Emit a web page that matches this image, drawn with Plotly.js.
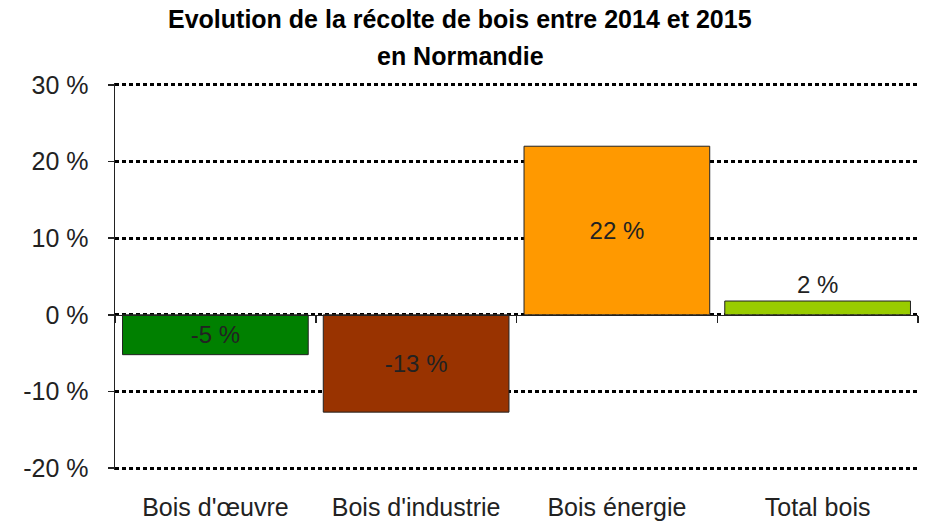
<!DOCTYPE html>
<html>
<head>
<meta charset="utf-8">
<script src="https://cdn.plot.ly/plotly-3.0.1.min.js"></script>
<style>html,body{margin:0;padding:0;background:#fff;}#chart{width:928px;height:522px;}</style>
</head>
<body>
<div id="chart"></div>
<script>
const categories = ["Bois d'œuvre", "Bois d'industrie", "Bois énergie", "Total bois"];
const values = [-5.2, -12.7, 22.0, 1.8];
const labels = ["-5 %", "-13 %", "22 %", "2 %"];
const barColors = ["#008000", "#993300", "#FF9900", "#99CC00"];
const labelPositions = ["inside", "inside", "inside", "outside"];
const yTickValues = [-20, -10, 0, 10, 20, 30];
const yTickLabels = ["-20 %", "-10 %", "0 %", "10 %", "20 %", "30 %"];
const titleLines = ["Evolution de la récolte de bois entre 2014 et 2015", "en Normandie"];

const yMin = -20.25, yMax = 30.25;
const font = "Liberation Sans, Arial, sans-serif";

const bars = {
  type: "bar",
  x: categories,
  y: values,
  text: labels,
  textposition: labelPositions,
  insidetextanchor: "middle",
  textangle: 0,
  constraintext: "none",
  cliponaxis: false,
  textfont: {family: font, size: 24, color: "#222"},
  insidetextfont: {family: font, size: 24, color: "#222"},
  outsidetextfont: {family: font, size: 24, color: "#222"},
  marker: {color: barColors, line: {color: "#222", width: 1}},
  hoverinfo: "none",
  showlegend: false
};

const axisHelper = {
  type: "scatter",
  mode: "none",
  x: categories,
  y: values,
  xaxis: "x2",
  yaxis: "y",
  hoverinfo: "none",
  showlegend: false
};

const layout = {
  width: 928, height: 522,
  margin: {l: 115, r: 10, t: 83, b: 52},
  paper_bgcolor: "#fff", plot_bgcolor: "#fff",
  bargap: 0.075,
  font: {family: font, color: "#222"},
  xaxis: {
    type: "category",
    range: [-0.5, 3.5],
    showgrid: false, showline: false, zeroline: false,
    ticks: "", ticklabelstandoff: 20,
    tickfont: {family: font, size: 25, color: "#222"},
    fixedrange: true
  },
  xaxis2: {
    type: "category",
    overlaying: "x",
    anchor: "free",
    position: (0 - yMin) / (yMax - yMin),
    range: [-0.5, 3.5],
    showline: true, linecolor: "#222", linewidth: 1.5,
    ticks: "outside", tickson: "boundaries", ticklen: 7, tickwidth: 1.5, tickcolor: "#222",
    showticklabels: false, showgrid: false, zeroline: false
  },
  yaxis: {
    range: [yMin, yMax],
    tickvals: yTickValues, ticktext: yTickLabels,
    showgrid: true, gridcolor: "#000", griddash: "4px,3px", gridwidth: 3,
    zeroline: false,
    showline: true, linecolor: "#222", linewidth: 1.5,
    ticks: "outside", ticklen: 6, tickwidth: 1.5, tickcolor: "#222",
    ticklabelstandoff: 14,
    tickfont: {family: font, size: 25, color: "#222"},
    fixedrange: true
  },
  annotations: [
    {text: "<b>" + titleLines[0] + "</b>", xref: "paper", yref: "paper", x: 0.43, y: 1.165,
     xanchor: "center", yanchor: "middle", showarrow: false,
     font: {family: font, size: 25, color: "#000"}},
    {text: "<b>" + titleLines[1] + "</b>", xref: "paper", yref: "paper", x: 0.43, y: 1.07,
     xanchor: "center", yanchor: "middle", showarrow: false,
     font: {family: font, size: 25, color: "#000"}}
  ]
};

Plotly.newPlot("chart", [bars, axisHelper], layout, {displayModeBar: false, staticPlot: true});
</script>
</body>
</html>
